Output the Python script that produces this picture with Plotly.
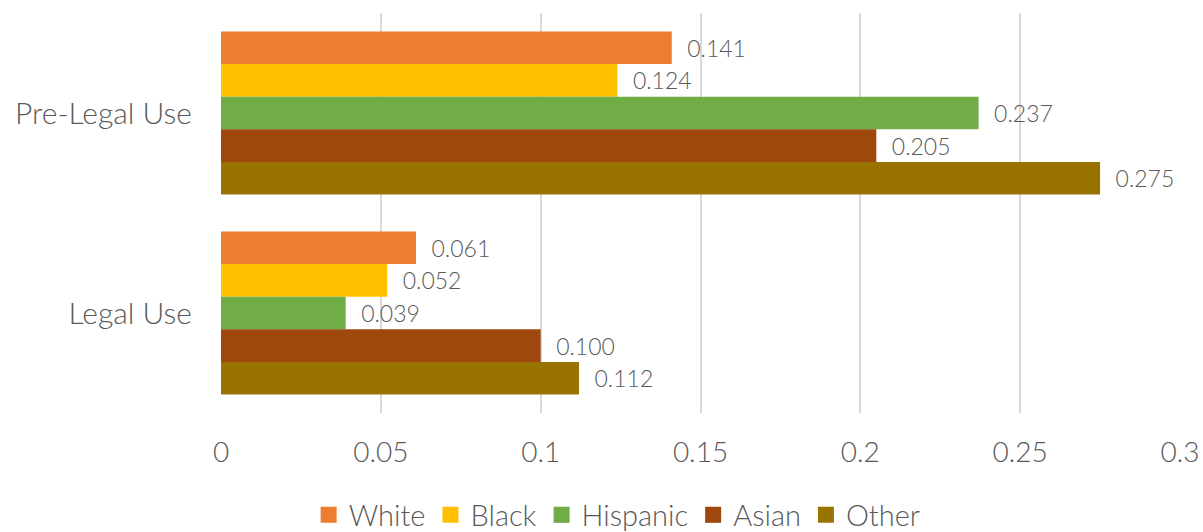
import plotly.graph_objects as go

categories = ["Pre-Legal Use", "Legal Use"]
series_names = ["White", "Black", "Hispanic", "Asian", "Other"]
white = [0.141, 0.061]
black = [0.124, 0.052]
hispanic = [0.237, 0.039]
asian = [0.205, 0.100]
other = [0.275, 0.112]
tick_vals = [0, 0.05, 0.1, 0.15, 0.2, 0.25, 0.3]
tick_text = ["0", "0.05", "0.1", "0.15", "0.2", "0.25", "0.3"]

colors = ["#ED7D31", "#FFC000", "#70AD47", "#9E480E", "#997300"]
values = [white, black, hispanic, asian, other]

TEXT = "#595959"
FONT = "Lato"

fig = go.Figure()
for name, vals, col in zip(series_names, values, colors):
    fig.add_trace(go.Bar(
        y=categories,
        x=vals,
        name=name,
        legendgroup=name,
        showlegend=False,
        orientation="h",
        marker=dict(color=col, line=dict(width=0)),
        text=[f"{v:.3f}" for v in vals],
        texttemplate="\u00a0\u00a0%{text}",
        textposition="outside",
        textfont=dict(family=FONT, size=23, color=TEXT, weight=300),
        cliponaxis=False,
    ))

# square legend keys, larger than the default bar swatch
for name, col in zip(series_names, colors):
    fig.add_trace(go.Scatter(
        x=[None], y=[None],
        mode="markers",
        name=name,
        legendgroup=name,
        marker=dict(symbol="square", size=16, color=col),
        showlegend=True,
    ))

fig.update_layout(
    width=1203,
    height=532,
    barmode="group",
    bargap=0.185,
    bargroupgap=0,
    paper_bgcolor="white",
    plot_bgcolor="white",
    margin=dict(l=221, r=23, t=13, b=119, autoexpand=False),
    font=dict(family=FONT, color=TEXT, weight=300),
    showlegend=True,
    legend=dict(
        orientation="h",
        xref="container",
        yref="container",
        x=0.513,
        xanchor="center",
        y=0.032,
        yanchor="middle",
        font=dict(family=FONT, size=29, color=TEXT, weight=300),
        itemwidth=30,
        traceorder="normal",
    ),
    xaxis=dict(
        range=[0, 0.3],
        tickvals=tick_vals,
        ticktext=tick_text,
        showgrid=True,
        gridcolor="#D9D9D9",
        gridwidth=2,
        zeroline=False,
        showline=False,
        ticks="",
        tickfont=dict(family=FONT, size=28, color=TEXT, weight=300),
        ticklabelstandoff=20,
    ),
    yaxis=dict(
        autorange="reversed",
        showgrid=False,
        showline=False,
        ticks="",
        tickfont=dict(family=FONT, size=30, color=TEXT, weight=300),
        ticklabelstandoff=28,
    ),
)

fig.write_html("out.html")
